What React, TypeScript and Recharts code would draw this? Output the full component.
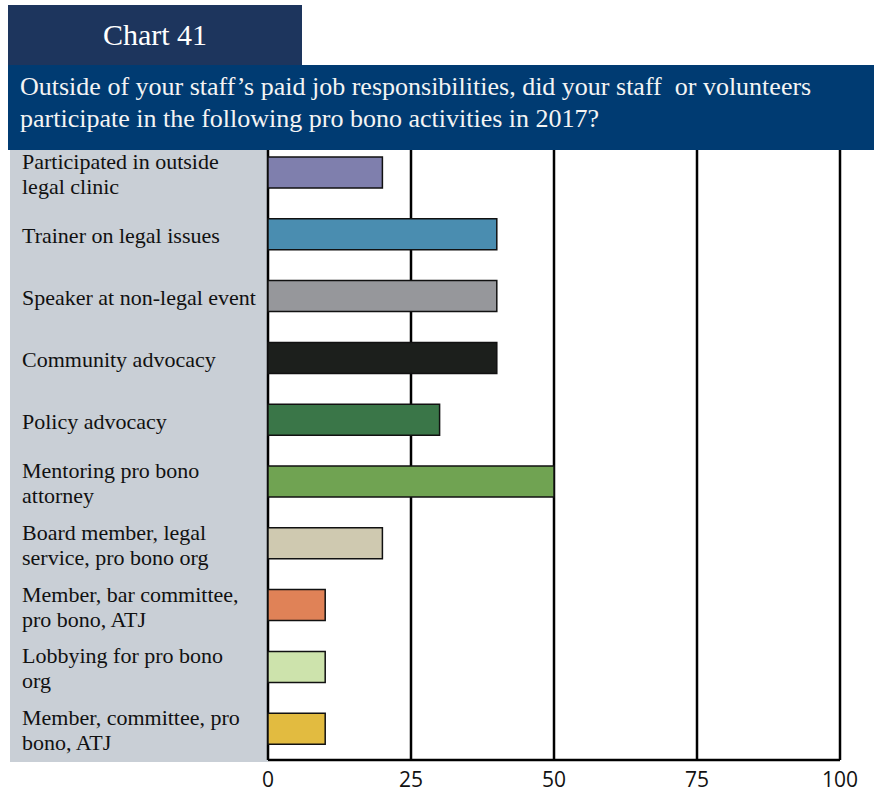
import { BarChart, Bar, XAxis, YAxis, CartesianGrid, Cell } from "recharts";

const categories = [
  "Participated in outside\nlegal clinic",
  "Trainer on legal issues",
  "Speaker at non-legal event",
  "Community advocacy",
  "Policy advocacy",
  "Mentoring pro bono\nattorney",
  "Board member, legal\nservice, pro bono org",
  "Member, bar committee,\npro bono, ATJ",
  "Lobbying for pro bono\norg",
  "Member, committee, pro\nbono, ATJ",
];
const values = [20, 40, 40, 40, 30, 50, 20, 10, 10, 10];
const barColors = [
  "#7f7fad", "#4a8db0", "#96979b", "#1c1f1c", "#3a7648",
  "#70a352", "#cfc9b0", "#e08257", "#cde3ac", "#e2bb40",
];
const xTicks = [0, 25, 50, 75, 100];

const data = categories.map((name, i) => ({ name, value: values[i] }));

const SERIF = "'Liberation Serif', 'DejaVu Serif', serif";

// multi-line category label, left aligned inside the gray panel
const CategoryTick = ({ y, payload }: any) => {
  const lines = String(payload.value).split("\n");
  const lh = 25;
  const top = y + 1 - ((lines.length - 1) * lh) / 2;
  return (
    <g>
      {lines.map((l, i) => (
        <text key={i} x={22} y={top + i * lh} fontFamily={SERIF} fontSize={22} fill="#111" dominantBaseline="central">
          {l}
        </text>
      ))}
    </g>
  );
};

export default function App() {
  return (
    <div style={{ position: "absolute", left: 0, top: 0, width: 874, height: 796, background: "#fff", overflow: "hidden" }}>
      {/* gray label panel */}
      <div style={{ position: "absolute", left: 10, top: 150, width: 258, height: 612, background: "#c9cfd6" }} />

      <div style={{ position: "absolute", left: 0, top: 0 }}>
        <BarChart
          width={874}
          height={796}
          data={data}
          layout="vertical"
          margin={{ top: 142, right: 34, bottom: 6, left: 10 }}
          barCategoryGap={0}
        >
          <CartesianGrid horizontal={false} vertical={true} stroke="#000" strokeWidth={2.5} strokeOpacity={1} />
          <XAxis
            type="number"
            domain={[0, 100]}
            ticks={xTicks}
            interval={0}
            height={30}
            axisLine={{ stroke: "#000", strokeWidth: 2.5 }}
            tickLine={false}
            tick={{ fill: "#111", fontSize: 21, fontFamily: "'Open Sans', 'Noto Sans', sans-serif" }}
            tickMargin={6}
          />
          <YAxis
            type="category"
            dataKey="name"
            width={258}
            axisLine={false}
            tickLine={false}
            tick={<CategoryTick />}
            interval={0}
          />
          <Bar dataKey="value" barSize={31} stroke="#111" strokeWidth={1.5} isAnimationActive={false}>
            {data.map((d, i) => (
              <Cell key={d.name} fill={barColors[i]} />
            ))}
          </Bar>
        </BarChart>
      </div>

      {/* header boxes */}
      <div
        style={{
          position: "absolute", left: 8, top: 5, width: 294, height: 60, background: "#1d355d",
          color: "#fff", fontFamily: SERIF, fontSize: 30, textAlign: "center", lineHeight: "60px",
        }}
      >
        Chart 41
      </div>
      <div
        style={{
          position: "absolute", left: 8, top: 65, width: 866, height: 85, background: "#003b72",
          color: "#f4f4f4", fontFamily: SERIF, fontSize: 26, lineHeight: "32px",
          boxSizing: "border-box", padding: "6px 0 0 12px", whiteSpace: "nowrap",
        }}
      >
        Outside of your staff’s paid job responsibilities, did your staff&nbsp; or volunteers
        <br />
        participate in the following pro bono activities in 2017?
      </div>
    </div>
  );
}
